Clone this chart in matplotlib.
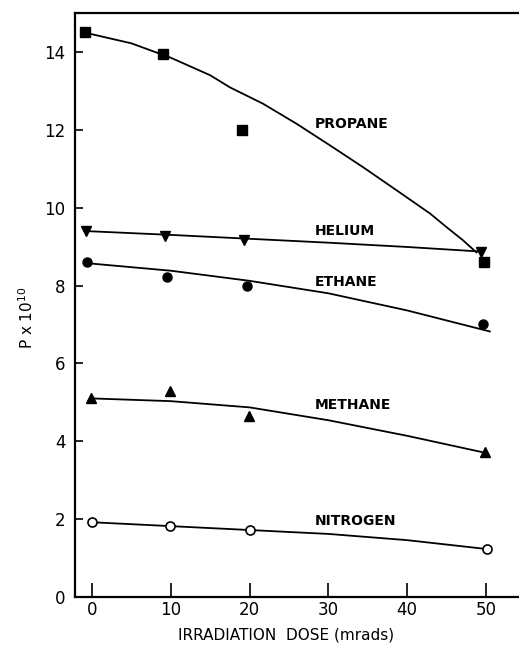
import numpy as np
import matplotlib
matplotlib.use("Agg")
import matplotlib.pyplot as plt

plt.rcParams['font.family'] = ['DejaVu Sans']

# measured permeabilities (P x 10^10) vs dose
propane_x = [-0.9, 9.0, 19.0, 49.8]
propane_y = [14.5, 13.95, 12.0, 8.6]
helium_x = [-0.7, 9.3, 19.3, 49.4]
helium_y = [9.4, 9.28, 9.16, 8.86]
ethane_x = [-0.6, 9.5, 19.7, 49.6]
ethane_y = [8.6, 8.22, 7.98, 7.02]
methane_x = [-0.1, 9.9, 19.9, 49.9]
methane_y = [5.1, 5.28, 4.64, 3.72]
nitrogen_x = [0.0, 9.9, 20.0, 50.2]
nitrogen_y = [1.92, 1.82, 1.71, 1.23]

# hand-drawn trend curves
propane_fit_x = [-1, 5, 10, 15, 17.5, 21.7, 26, 30.2, 34.4, 38.7, 42.9, 45, 47.1, 48.8]
propane_fit_y = [14.5, 14.22, 13.85, 13.4, 13.09, 12.67, 12.15, 11.6, 11.04, 10.44, 9.85, 9.5, 9.16, 8.85]
helium_fit_x = [-1, 10, 20, 30, 40, 49.5]
helium_fit_y = [9.4, 9.3, 9.2, 9.1, 8.99, 8.87]
ethane_fit_x = [-1, 10, 20, 30, 40, 50.5]
ethane_fit_y = [8.58, 8.38, 8.12, 7.8, 7.36, 6.82]
methane_fit_x = [0, 10, 20, 30, 40, 50]
methane_fit_y = [5.1, 5.03, 4.87, 4.54, 4.14, 3.7]
nitrogen_fit_x = [0, 10, 20, 30, 40, 50.2]
nitrogen_fit_y = [1.92, 1.82, 1.72, 1.62, 1.46, 1.23]

gas_names = ['PROPANE', 'HELIUM', 'ETHANE', 'METHANE', 'NITROGEN']
name_y = [12.15, 9.41, 8.1, 4.92, 1.95]

fig = plt.figure(figsize=(5.19, 6.48), dpi=100)
ax = fig.add_axes([0.1445, 0.0787, 0.8555, 0.9013])

lw = 1.3
ax.plot(propane_fit_x, propane_fit_y, color='black', lw=lw)
ax.plot(helium_fit_x, helium_fit_y, color='black', lw=lw)
ax.plot(ethane_fit_x, ethane_fit_y, color='black', lw=lw)
ax.plot(methane_fit_x, methane_fit_y, color='black', lw=lw)
ax.plot(nitrogen_fit_x, nitrogen_fit_y, color='black', lw=lw)

ax.plot(propane_x, propane_y, 's', color='black', ms=6.5, ls='none')
ax.plot(helium_x, helium_y, 'v', color='black', ms=7, ls='none')
ax.plot(ethane_x, ethane_y, 'o', color='black', ms=6.5, ls='none')
ax.plot(methane_x, methane_y, '^', color='black', ms=7, ls='none')
ax.plot(nitrogen_x, nitrogen_y, 'o', mfc='white', mec='black', mew=1.2,
        ms=6.5, ls='none')

for name, yy in zip(gas_names, name_y):
    ax.text(28.3, yy, name, fontsize=10, fontweight='bold',
            ha='left', va='center')

ax.set_xlim(-2.16, 54.2)
ax.set_ylim(0, 15)
ax.set_xticks([0, 10, 20, 30, 40, 50])
ax.set_yticks([0, 2, 4, 6, 8, 10, 12, 14])
ax.tick_params(axis='x', direction='in', length=10, width=1.2, pad=3, labelsize=12)
ax.tick_params(axis='y', direction='in', length=6, width=1.2, pad=7, labelsize=12)
ax.spines['right'].set_visible(False)
for s in ['left', 'bottom', 'top']:
    ax.spines[s].set_linewidth(1.6)

ax.set_xlabel('IRRADIATION  DOSE (mrads)', fontsize=11)
ax.xaxis.set_label_coords(0.475, -0.052)
fig.text(0.052, 0.51, r'P x 10$^{10}$', rotation=90, fontsize=11,
         ha='center', va='center')

fig.savefig('out.png', dpi=100)
